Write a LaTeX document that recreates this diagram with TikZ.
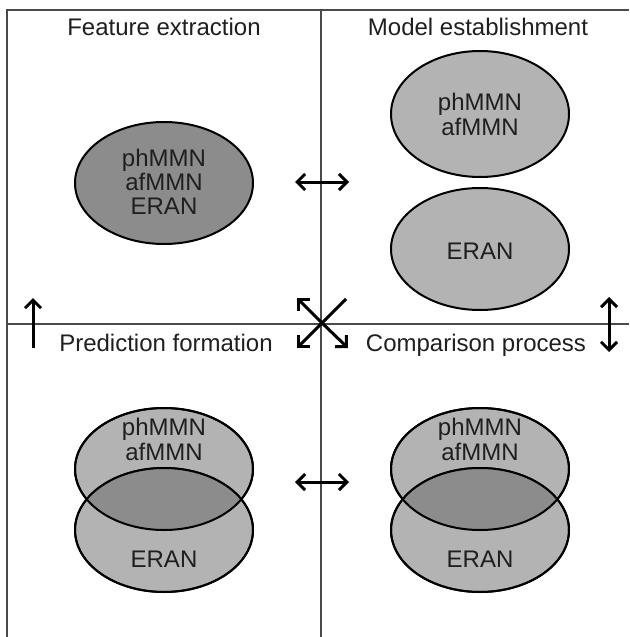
\documentclass[tikz,border=0pt]{standalone}
\usepackage{fontspec}
\setmainfont{Liberation Sans}
\usetikzlibrary{arrows.meta,shapes.geometric}
\definecolor{lightfill}{HTML}{B3B3B3}
\definecolor{darkfill}{HTML}{8C8C8C}
\definecolor{gridline}{HTML}{4A4A4A}
\begin{document}
\begin{tikzpicture}[x=1pt,y=-1pt,
  lbl/.style={font=\fontsize{24}{26}\selectfont, anchor=base, inner sep=0pt, text=black!88},
  blob/.style={ellipse, draw=black, line width=2pt, inner sep=0pt, minimum width=178pt},
  grid/.style={draw=gridline, line width=2.4pt},
  arr/.style={line width=3pt, draw=black},
  barb/.tip={Straight Barb[length=8pt,width=16pt]}
]
\useasboundingbox (0,0) rectangle (629,637);
\fill[white] (0,0) rectangle (629,637);

% frame and quadrant lines
\coordinate (fbl) at (7,637);
\coordinate (ftl) at (7,10);
\coordinate (ftr) at (629,10);
\coordinate (vt) at (321,10);
\coordinate (vb) at (321,637);
\coordinate (hl) at (7,324);
\coordinate (hr) at (629,324);
\draw[grid] (fbl) -- (ftl) -- (ftr);
\draw[grid] (vt) -- (vb);
\draw[grid] (hl) -- (hr);

% titles
\node[lbl] (t1) at (164,35) {Feature extraction};
\node[lbl] (t2) at (478,35) {Model establishment};
\node[lbl] (t3) at (166,351) {Prediction formation};
\node[lbl] (t4) at (476,351) {Comparison process};

% Feature extraction
\node[blob, fill=darkfill, minimum height=122pt] (fe) at (164,183) {};
\node[lbl] (fe1) at (164,166) {phMMN};
\node[lbl] (fe2) at (164,190) {afMMN};
\node[lbl] (fe3) at (164,214) {ERAN};

% Model establishment
\node[blob, fill=lightfill, minimum height=126pt] (me1) at (480,114) {};
\node[blob, fill=lightfill, minimum height=122pt] (me2) at (480,249) {};
\node[lbl] (me1a) at (480,110) {phMMN};
\node[lbl] (me1b) at (480,135) {afMMN};
\node[lbl] (me2a) at (480,259) {ERAN};

% Prediction formation and Comparison process (overlapping pairs)
\foreach \cx/\nm in {164/pf, 480/cp}{
  \node[blob, fill=lightfill, minimum height=122pt] (\nm t) at (\cx,469) {};
  \node[blob, fill=lightfill, minimum height=124pt] (\nm b) at (\cx,530) {};
  \begin{scope}
    \clip (\cx,469) ellipse [x radius=89pt, y radius=61pt];
    \fill[darkfill] (\cx,530) ellipse [x radius=89pt, y radius=62pt];
  \end{scope}
  \draw[line width=2pt] (\cx,469) ellipse [x radius=89pt, y radius=61pt];
  \draw[line width=2pt] (\cx,530) ellipse [x radius=89pt, y radius=62pt];
  \node[lbl] (\nm 1) at (\cx,435) {phMMN};
  \node[lbl] (\nm 2) at (\cx,460) {afMMN};
  \node[lbl] (\nm 3) at (\cx,567) {ERAN};
}

% arrows
\coordinate (h1a) at (295,182);
\coordinate (h1b) at (349,182);
\draw[arr, barb-barb] (h1a) -- (h1b);
\coordinate (h2a) at (295,482);
\coordinate (h2b) at (349,482);
\draw[arr, barb-barb] (h2a) -- (h2b);

\coordinate (xc) at (322,323);
\coordinate (xnw) at (297,298);
\coordinate (xne) at (346,299);
\coordinate (xsw) at (297,348);
\coordinate (xse) at (348,348);
\draw[arr, -barb] (xc) -- (xnw);
\draw[arr] (xc) -- (xne);
\draw[arr, -barb] (xc) -- (xsw);
\draw[arr, -barb] (xc) -- (xse);

\coordinate (la) at (33,348);
\coordinate (lb) at (33,298);
\draw[arr, -barb] (la) -- (lb);

\coordinate (ra) at (609,352);
\coordinate (rb) at (609,297);
\draw[arr, barb-barb] (ra) -- (rb);
\end{tikzpicture}
\end{document}
